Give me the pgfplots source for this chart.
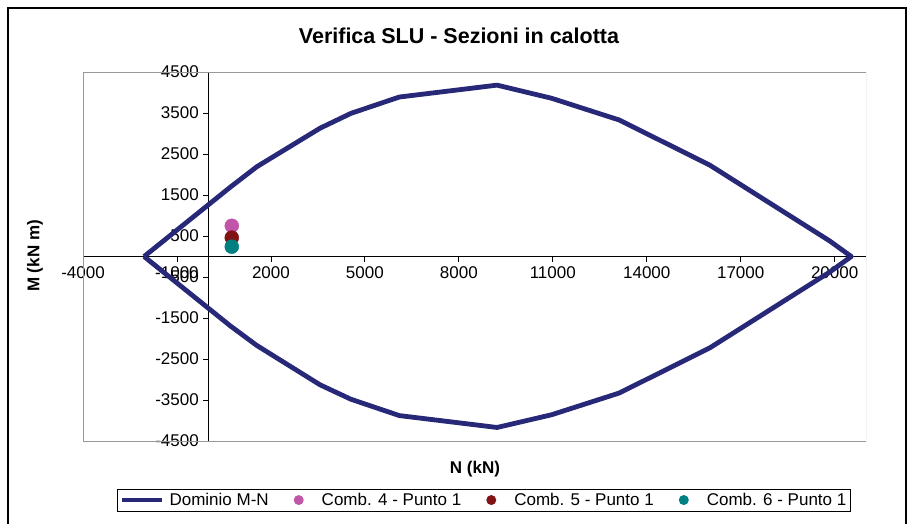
\documentclass[border=0pt]{standalone}
\usepackage{pgfplots}
\pgfplotsset{compat=1.18}
\usepackage{fontspec}
\setmainfont{Liberation Sans}
\definecolor{dom}{RGB}{40,40,120}
\definecolor{cfour}{RGB}{192,85,170}
\definecolor{cfive}{RGB}{128,20,20}
\definecolor{csix}{RGB}{0,128,128}
\begin{document}
\begin{tikzpicture}
\useasboundingbox (0pt,0pt) rectangle (911pt,-523pt);
\draw[black, line width=1.2pt] (8pt,-8pt) rectangle (906pt,-545pt);
\node[font=\fontsize{21.5}{25}\selectfont\bfseries] at (459pt,-36pt) {Verifica SLU - Sezioni in calotta};
\node[font=\fontsize{17}{20}\selectfont\bfseries] at (475pt,-469pt) {N (kN)};
\node[font=\fontsize{17}{20}\selectfont\bfseries, rotate=90] at (35pt,-256pt) {M (kN m)};
\begin{axis}[
  at={(83pt,-441pt)}, anchor=south west,
  scale only axis, width=783pt, height=369pt,
  xmin=-4000, xmax=21000, ymin=-4500, ymax=4500,
  axis lines=middle, axis line style={-, black, line width=0.8pt},
  xtick={-4000,-1000,...,20000}, ytick={-4500,-3500,...,4500},
  tick align=outside, major tick length=5pt,
  tick style={black, line width=0.8pt},
  ticklabel style={font=\fontsize{17}{20}\selectfont},
  /pgf/number format/assume math mode=true,
  scaled ticks=false,
  /pgf/number format/set thousands separator={},
  xticklabel style={yshift=-2pt},
  yticklabel style={xshift=-1pt},
  legend columns=4,
  legend cell align=left,
  legend style={at={(0.5122,-0.16)}, anchor=center, draw=black, line width=0.8pt,
    font=\fontsize{17}{20}\selectfont, inner sep=2pt,
    /tikz/every odd column/.append style={column sep=3pt},
    /tikz/every even column/.append style={column sep=8pt}},
]
\draw[gray!80, line width=1pt] (rel axis cs:0,0) rectangle (rel axis cs:1,1);
\addplot[dom, line width=4.8pt, line join=round, mark=none,
  legend image code/.code={\draw[dom, line width=4.8pt] (0pt,0pt) -- (40pt,0pt);}]
  coordinates {
  (-2050,0) (700,1690) (1550,2190) (3570,3130) (4550,3490) (6100,3890)
  (9220,4180) (10960,3860) (13120,3330) (16010,2230) (19840,380) (20530,0)
  (19840,-380) (16010,-2230) (13120,-3330) (10960,-3860) (9220,-4170)
  (6100,-3880) (4550,-3480) (3570,-3130) (1550,-2170) (700,-1690) (-2050,0)
  };
\addlegendentry{Dominio M-N}
\addplot[only marks, mark=*, mark size=7pt, cfour, mark options={draw=none, fill=cfour},
  legend image code/.code={\path[draw=none,fill=none] (-20pt,0pt) -- (18pt,0pt); \path[draw=none,fill=cfour] (0pt,0pt) circle (5pt);}] coordinates {(750,750)};
\addlegendentry{Comb. 4 - Punto 1}
\addplot[only marks, mark=*, mark size=7pt, cfive, mark options={draw=none, fill=cfive},
  legend image code/.code={\path[draw=none,fill=none] (-20pt,0pt) -- (18pt,0pt); \path[draw=none,fill=cfive] (0pt,0pt) circle (5pt);}] coordinates {(750,460)};
\addlegendentry{Comb. 5 - Punto 1}
\addplot[only marks, mark=*, mark size=7pt, csix, mark options={draw=none, fill=csix},
  legend image code/.code={\path[draw=none,fill=none] (-20pt,0pt) -- (18pt,0pt); \path[draw=none,fill=csix] (0pt,0pt) circle (5pt);}] coordinates {(750,240)};
\addlegendentry{Comb. 6 - Punto 1}
\end{axis}
\end{tikzpicture}
\end{document}
